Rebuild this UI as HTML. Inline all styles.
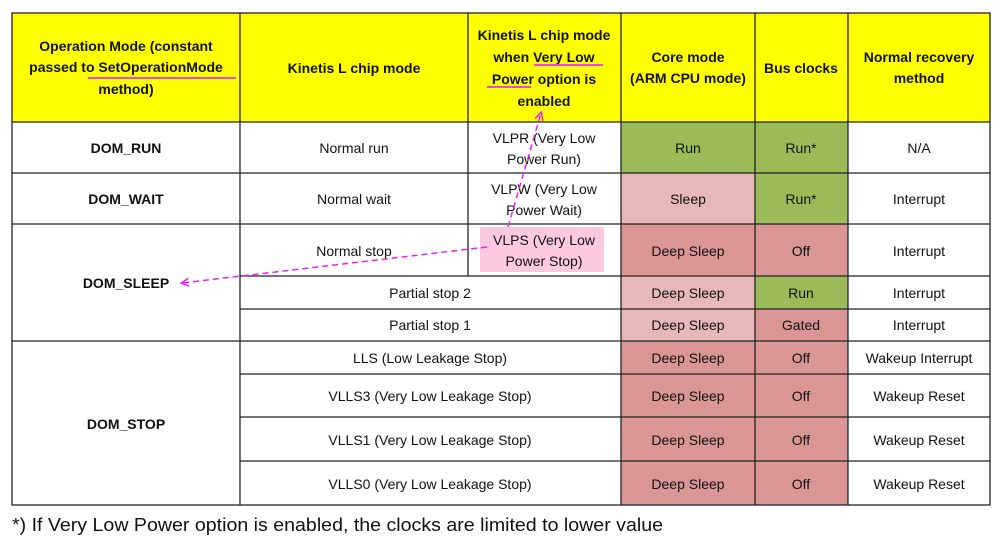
<!DOCTYPE html>
<html><head><meta charset="utf-8"><style>
html,body{margin:0;padding:0;background:#fff;width:999px;height:553px;overflow:hidden}
svg text{font-family:"Liberation Sans",sans-serif;font-size:14px;fill:#111}
.b{font-weight:bold}
</style></head><body>
<svg width="999" height="553" viewBox="0 0 999 553" xmlns="http://www.w3.org/2000/svg">
<defs>
<marker id="ah" markerWidth="10" markerHeight="10" refX="8" refY="5" orient="auto" markerUnits="userSpaceOnUse">
<path d="M1,1 L9,5 L1,9" fill="none" stroke="#ee22ee" stroke-width="1.5"/>
</marker>
</defs>
<rect x="0" y="0" width="999" height="553" fill="#fff"/>
<!-- header -->
<rect x="12" y="13" width="978" height="109" fill="#ffff00"/>
<!-- colored cells -->
<rect x="621" y="122" width="134" height="51" fill="#9bbb59"/>
<rect x="755" y="122" width="93" height="102" fill="#9bbb59"/>
<rect x="621" y="173" width="134" height="51" fill="#e6b9b8"/>
<rect x="621" y="224" width="227" height="52" fill="#d99694"/>
<rect x="621" y="276" width="134" height="65" fill="#e6b9b8"/>
<rect x="755" y="276" width="93" height="33" fill="#9bbb59"/>
<rect x="755" y="309" width="93" height="32" fill="#d99694"/>
<rect x="621" y="341" width="227" height="164" fill="#d99694"/>
<rect x="480" y="227" width="124" height="45" fill="#fcc9e1"/>
<!-- grid lines -->
<g stroke="#222" stroke-width="1.3" fill="none">
<rect x="12" y="13" width="978" height="492"/>
<line x1="12" y1="122" x2="990" y2="122"/>
<line x1="12" y1="173" x2="990" y2="173"/>
<line x1="12" y1="224" x2="990" y2="224"/>
<line x1="240" y1="276" x2="990" y2="276"/>
<line x1="240" y1="309" x2="990" y2="309"/>
<line x1="12" y1="341" x2="990" y2="341"/>
<line x1="240" y1="374" x2="990" y2="374"/>
<line x1="240" y1="417" x2="990" y2="417"/>
<line x1="240" y1="461" x2="990" y2="461"/>
<line x1="240" y1="13" x2="240" y2="505"/>
<line x1="468" y1="13" x2="468" y2="276"/>
<line x1="621" y1="13" x2="621" y2="505"/>
<line x1="755" y1="13" x2="755" y2="505"/>
<line x1="848" y1="13" x2="848" y2="505"/>
</g>
<!-- header text -->
<g class="b" text-anchor="middle">
<text class="b" x="126" y="51">Operation Mode (constant</text>
<text class="b" x="126" y="72">passed to SetOperationMode</text>
<text class="b" x="126" y="94">method)</text>
<text class="b" x="354" y="73">Kinetis L chip mode</text>
<text class="b" x="544" y="40">Kinetis L chip mode</text>
<text class="b" x="544" y="62">when Very Low</text>
<text class="b" x="544" y="84">Power option is</text>
<text class="b" x="544" y="106">enabled</text>
<text class="b" x="688" y="62">Core mode</text>
<text class="b" x="688" y="83">(ARM CPU mode)</text>
<text class="b" x="801" y="73">Bus clocks</text>
<text class="b" x="919" y="62">Normal recovery</text>
<text class="b" x="919" y="83">method</text>
</g>
<g stroke="#ee44ee" stroke-width="2">
<line x1="88" y1="78" x2="236" y2="78"/>
<line x1="534" y1="65" x2="603" y2="65"/>
<line x1="487" y1="87" x2="531" y2="87"/>
</g>
<!-- body text -->
<g text-anchor="middle">
<text class="b" x="126" y="153">DOM_RUN</text>
<text class="b" x="126" y="204">DOM_WAIT</text>
<text class="b" x="126" y="288">DOM_SLEEP</text>
<text class="b" x="126" y="429">DOM_STOP</text>
<text x="354" y="153">Normal run</text>
<text x="354" y="204">Normal wait</text>
<text x="354" y="256">Normal stop</text>
<text x="430" y="298">Partial stop 2</text>
<text x="430" y="330">Partial stop 1</text>
<text x="430" y="363">LLS (Low Leakage Stop)</text>
<text x="430" y="401">VLLS3 (Very Low Leakage Stop)</text>
<text x="430" y="445">VLLS1 (Very Low Leakage Stop)</text>
<text x="430" y="489">VLLS0 (Very Low Leakage Stop)</text>
<text x="544" y="143">VLPR (Very Low</text>
<text x="544" y="164">Power Run)</text>
<text x="544" y="194">VLPW (Very Low</text>
<text x="544" y="215">Power Wait)</text>
<text x="544" y="245">VLPS (Very Low</text>
<text x="544" y="266">Power Stop)</text>
<text x="688" y="153">Run</text>
<text x="688" y="204">Sleep</text>
<text x="688" y="256">Deep Sleep</text>
<text x="688" y="298">Deep Sleep</text>
<text x="688" y="330">Deep Sleep</text>
<text x="688" y="363">Deep Sleep</text>
<text x="688" y="401">Deep Sleep</text>
<text x="688" y="445">Deep Sleep</text>
<text x="688" y="489">Deep Sleep</text>
<text x="801" y="153">Run*</text>
<text x="801" y="204">Run*</text>
<text x="801" y="256">Off</text>
<text x="801" y="298">Run</text>
<text x="801" y="330">Gated</text>
<text x="801" y="363">Off</text>
<text x="801" y="401">Off</text>
<text x="801" y="445">Off</text>
<text x="801" y="489">Off</text>
<text x="919" y="153">N/A</text>
<text x="919" y="204">Interrupt</text>
<text x="919" y="256">Interrupt</text>
<text x="919" y="298">Interrupt</text>
<text x="919" y="330">Interrupt</text>
<text x="919" y="363">Wakeup Interrupt</text>
<text x="919" y="401">Wakeup Reset</text>
<text x="919" y="445">Wakeup Reset</text>
<text x="919" y="489">Wakeup Reset</text>
</g>
<!-- arrows -->
<g stroke="#ee22ee" stroke-width="1.5" stroke-dasharray="6,4" fill="none">
<line x1="487" y1="247" x2="182" y2="283" marker-end="url(#ah)"/>
<line x1="508" y1="227" x2="541" y2="113" marker-end="url(#ah)"/>
</g>
<text x="12" y="531" style="font-size:18px" textLength="651" lengthAdjust="spacingAndGlyphs">*) If Very Low Power option is enabled, the clocks are limited to lower value</text>
</svg>
</body></html>
